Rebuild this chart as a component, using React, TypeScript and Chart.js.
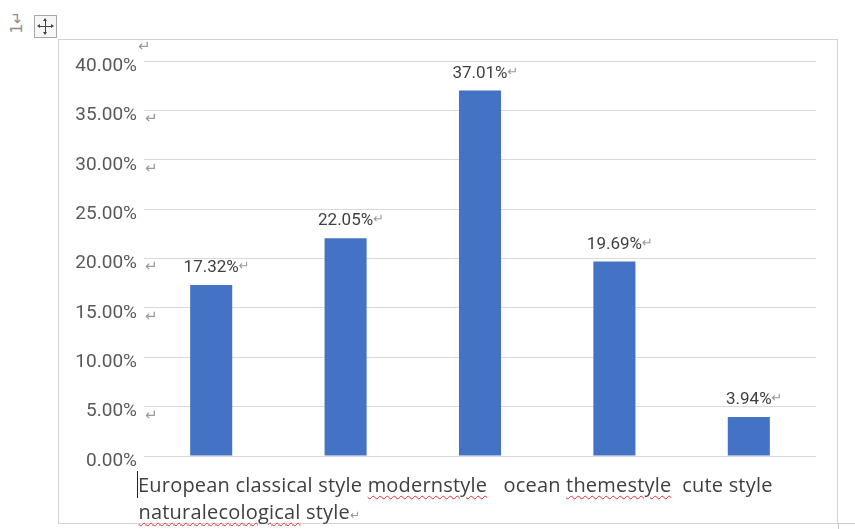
import React, { useEffect, useRef } from "react";
import { Chart, registerables } from "chart.js";

Chart.register(...registerables);

const categories = [
  "European classical style",
  "modernstyle",
  "ocean themestyle",
  "cute style",
  "naturalecological style",
];
const shares = [17.32, 22.05, 37.01, 19.69, 3.94];
const yTicks = [0, 5, 10, 15, 20, 25, 30, 35, 40];
const returnMarkTicks = [35, 30, 20, 15, 5];
const misspelled = ["modernstyle", "themestyle", "naturalecological"];

const FONT = "Roboto, 'Noto Sans', sans-serif";
const CAPTION_FONT = "'Open Sans', 'Noto Sans', sans-serif";

const dataLabels = {
  id: "dataLabels",
  afterDatasetsDraw(chart: any) {
    const ctx = chart.ctx;
    const meta = chart.getDatasetMeta(0);
    ctx.save();
    meta.data.forEach((bar: any, i: number) => {
      const txt = shares[i].toFixed(2) + "%";
      ctx.font = `17px ${FONT}`;
      ctx.fillStyle = "#404040";
      ctx.textAlign = "center";
      ctx.textBaseline = "alphabetic";
      const y = bar.y - 13;
      ctx.fillText(txt, bar.x, y);
      const w = ctx.measureText(txt).width;
      ctx.font = `13px 'DejaVu Sans', sans-serif`;
      ctx.fillStyle = "#9a9a9a";
      ctx.textAlign = "left";
      ctx.fillText("↵", bar.x + w / 2, y - 2);
    });
    // paragraph marks next to y tick labels
    const ys = chart.scales.y;
    ctx.font = `15px 'DejaVu Sans', sans-serif`;
    ctx.fillStyle = "#9a9a9a";
    ctx.textAlign = "left";
    ctx.textBaseline = "middle";
    returnMarkTicks.forEach((v) => {
      ctx.fillText("↵", ys.right + 1, ys.getPixelForValue(v) + 9);
    });
    ctx.fillText("↵", ys.right - 6, ys.getPixelForValue(40) - 14);
    ctx.restore();
  },
};

export default function App() {
  const ref = useRef<HTMLCanvasElement>(null);
  useEffect(() => {
    if (!ref.current) return;
    const chart = new Chart(ref.current, {
      type: "bar",
      data: {
        labels: categories,
        datasets: [
          {
            data: shares,
            backgroundColor: "#4472C4",
            borderWidth: 0,
            barPercentage: 0.313,
            categoryPercentage: 1,
          },
        ],
      },
      options: {
        animation: false,
        responsive: false,
        devicePixelRatio: 1,
        layout: { padding: { left: 60, right: 39, top: 61, bottom: 73 } },
        plugins: { legend: { display: false }, tooltip: { enabled: false } },
        scales: {
          x: { display: false },
          y: {
            min: 0,
            max: 40,
            afterFit(scale: any) {
              scale.width = 84;
            },
            afterBuildTicks(scale: any) {
              scale.ticks = yTicks.map((v) => ({ value: v }));
            },
            border: { display: false },
            grid: { color: "#d9d9d9", lineWidth: 1, drawTicks: false },
            ticks: {
              padding: 7,
              labelOffset: 5,
              color: "#595959",
              font: { family: FONT, size: 19 },
              callback: (v: any) => Number(v).toFixed(2) + "%",
            },
          },
        },
      },
      plugins: [dataLabels],
    });
    return () => chart.destroy();
  }, []);

  const wavy: React.CSSProperties = {
    textDecorationLine: "underline",
    textDecorationStyle: "wavy",
    textDecorationColor: "#e03030",
    textDecorationThickness: "1px",
    textUnderlineOffset: "3px",
  };
  const renderWord = (w: string, k: string) => {
    const m = misspelled.find((s) => w.startsWith(s));
    if (!m) return <span key={k}>{w}</span>;
    return (
      <span key={k}>
        <span style={wavy}>{m}</span>
        {w.slice(m.length)}
      </span>
    );
  };
  const line1 = categories.slice(0, 4);
  const seps = [" ", "   ", "  ", ""];

  const arrow = (style: React.CSSProperties) => (
    <div style={{ position: "absolute", width: 0, height: 0, ...style }} />
  );

  return (
    <div
      style={{
        position: "fixed",
        left: 0,
        top: 0,
        width: 855,
        height: 529,
        background: "#fff",
        overflow: "hidden",
      }}
    >
      <div
        style={{
          position: "absolute",
          left: 58,
          top: 39,
          width: 780,
          height: 485,
          border: "1px solid #d2d2d2",
          boxSizing: "border-box",
        }}
      />
      <div style={{ position: "absolute", left: 838, top: 523, width: 17, height: 1, background: "#c8c8c8" }} />
      <div style={{ position: "absolute", left: 838, top: 523, width: 1, height: 6, background: "#c8c8c8" }} />
      <div
        style={{
          position: "absolute",
          left: 1,
          top: 14,
          width: 32,
          textAlign: "center",
          transform: "rotate(-90deg)",
          fontFamily: "'DejaVu Sans', sans-serif",
          fontSize: 15,
          lineHeight: "17px",
          color: "#8c8c8c",
        }}
      >
        1↵
      </div>
      <div
        style={{
          position: "absolute",
          left: 34,
          top: 15,
          width: 23,
          height: 23,
          border: "1px solid #a8a8a8",
          boxSizing: "border-box",
          background: "#f6f6f6",
        }}
      >
        <div style={{ position: "absolute", left: 4, top: 10, width: 13, height: 1, background: "#444" }} />
        <div style={{ position: "absolute", left: 10, top: 4, width: 1, height: 13, background: "#444" }} />
        {arrow({ left: 8, top: 2, borderLeft: "2.5px solid transparent", borderRight: "2.5px solid transparent", borderBottom: "3px solid #444" })}
        {arrow({ left: 8, top: 16, borderLeft: "2.5px solid transparent", borderRight: "2.5px solid transparent", borderTop: "3px solid #444" })}
        {arrow({ left: 2, top: 8, borderTop: "2.5px solid transparent", borderBottom: "2.5px solid transparent", borderRight: "3px solid #444" })}
        {arrow({ left: 16, top: 8, borderTop: "2.5px solid transparent", borderBottom: "2.5px solid transparent", borderLeft: "3px solid #444" })}
      </div>
      <canvas
        ref={ref}
        width={855}
        height={529}
        style={{ position: "absolute", left: 0, top: 0, width: 855, height: 529 }}
      />
      <div
        style={{
          position: "absolute",
          left: 137,
          top: 471,
          fontFamily: CAPTION_FONT,
          fontSize: 20,
          letterSpacing: "0.2px",
          lineHeight: "27px",
          color: "#404040",
          whiteSpace: "pre",
        }}
      >
        <div style={{ borderLeft: "1.5px solid #222", paddingLeft: 0 }}>
          {line1.map((c, i) => (
            <React.Fragment key={i}>
              {c.split(" ").map((w, j, arr) => (
                <React.Fragment key={j}>
                  {renderWord(w, `${i}-${j}`)}
                  {j < arr.length - 1 ? " " : ""}
                </React.Fragment>
              ))}
              {seps[i]}
            </React.Fragment>
          ))}
        </div>
        <div style={{ paddingLeft: 1.5 }}>
          {categories[4].split(" ").map((w, j, arr) => (
            <React.Fragment key={j}>
              {renderWord(w, `n-${j}`)}
              {j < arr.length - 1 ? " " : ""}
            </React.Fragment>
          ))}
          <span style={{ fontFamily: "'DejaVu Sans', sans-serif", fontSize: 12, color: "#9a9a9a" }}>↵</span>
        </div>
      </div>
    </div>
  );
}
